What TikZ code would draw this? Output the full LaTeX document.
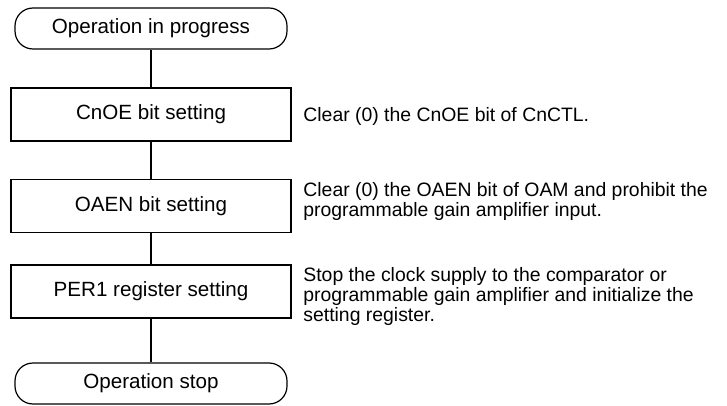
\documentclass[tikz,border=0pt]{standalone}
\usepackage{fontspec}
\setmainfont{Liberation Sans}
\usetikzlibrary{positioning}

\begin{document}
\begin{tikzpicture}[
  x=0.5pt, y=-0.5pt,
  every node/.style={font=\fontsize{10.3}{12}\selectfont},
  proc/.style={draw, line width=0.6pt, minimum width=140pt,
               minimum height=26.5pt, text centered},
  term/.style={draw, line width=0.6pt, rounded corners=9pt,
               minimum width=136pt, minimum height=20.5pt, text centered},
  note/.style={anchor=north west, inner sep=0pt, align=left,
               font=\fontsize{9.7}{9.85}\selectfont},
  link/.style={line width=0.6pt}
]
\useasboundingbox (0,0) rectangle (727,406);
\node[term] (begin) at (151,28.5)  {Operation in progress};
\node[proc] (cnoe)  at (151,114.5) {CnOE bit setting};
\node[proc] (oaen)  at (151,206)   {OAEN bit setting};
\node[proc] (per)   at (151,291.5) {PER1 register setting};
\node[term] (stop)  at (151,383.5) {Operation stop};

\node[note] (cnoetxt) at (303,107.5) {Clear (0) the CnOE bit of CnCTL.};
\node[note] (oaentxt) at (303,182.5) {Clear (0) the OAEN bit of OAM and prohibit the\\
  programmable gain amplifier input.};
\node[note] (pertxt)  at (303,267.5) {Stop the clock supply to the comparator or\\
  programmable gain amplifier and initialize the\\ setting register.};

\draw[link] (begin) -- (cnoe);
\draw[link] (cnoe)  -- (oaen);
\draw[link] (oaen)  -- (per);
\draw[link] (per)   -- (stop);
\end{tikzpicture}
\end{document}
